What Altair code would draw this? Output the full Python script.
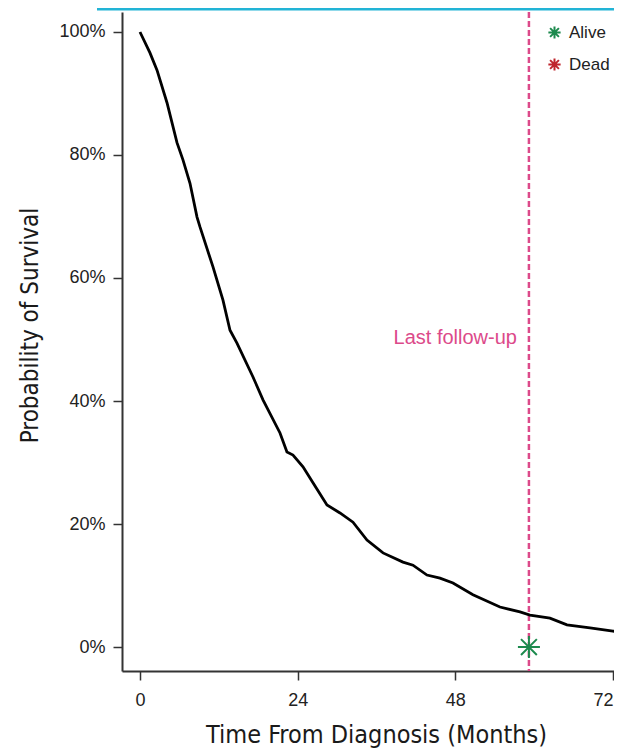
import altair as alt
import pandas as pd

# ---- data ----
months = [0, 1.52, 2.59, 4.11, 5.63, 6.54, 7.61, 8.68, 9.13, 11.11, 12.63, 13.70,
          14.76, 17.20, 18.72, 21.31, 22.37, 23.29, 24.81, 26.33, 28.46, 30.44,
          32.42, 34.55, 36.99, 40.03, 41.55, 43.68, 45.66, 47.64, 50.68, 54.79,
          57.84, 59.36, 62.40, 64.99, 68.49, 71.99, 73.36]
survival = [100, 96.6, 93.8, 88.5, 82.0, 79.2, 75.4, 69.9, 68.3, 61.8, 56.4, 51.5,
            49.4, 43.9, 40.2, 34.8, 31.7, 31.2, 29.3, 26.7, 23.1, 21.8,
            20.3, 17.4, 15.3, 13.8, 13.3, 11.7, 11.2, 10.4, 8.5, 6.5,
            5.7, 5.2, 4.7, 3.6, 3.1, 2.6, 2.3]

last_followup = [59.2]
followup_label = ["Last follow-up"]

censor_month = [59.2]
censor_surv = [0]
censor_status = ["Alive"]

status_labels = ["Alive", "Dead"]
status_colors = ["#1d8a4e", "#c0262d"]

x_ticks = [0, 24, 48, 72]
y_ticks = [0, 20, 40, 60, 80, 100]

# ---- styling ----
PINK = "#dc4a8a"
CYAN = "#22b4d6"
AXIS_COL = "#333333"
TICK_FONT = "Liberation Sans"
TITLE_FONT = "DejaVu Sans Condensed"
ASTERISK = "M-1,0L1,0M0,-1L0,1M-0.72,-0.72L0.72,0.72M-0.72,0.72L0.72,-0.72"

W, H = 492, 659
xscale = alt.Scale(domain=[-2.74, 72.15], nice=False, zero=False)
yscale = alt.Scale(domain=[-3.9, 103.25], nice=False, zero=False)

x_axis = alt.Axis(values=x_ticks, title="Time From Diagnosis (Months)", grid=False,
                  domainColor=AXIS_COL, domainWidth=2, tickColor=AXIS_COL, tickWidth=1.5,
                  tickSize=9, labelFont=TICK_FONT, labelFontSize=18, labelColor="#222222",
                  labelPadding=11, labelFlush=4, titleFont=TITLE_FONT, titleFontSize=25,
                  titleFontWeight="normal", titleColor="#1a1a1a",
                  titleX=254, titleY=71, titleAlign="center", titleBaseline="alphabetic")
y_axis = alt.Axis(values=y_ticks, labelExpr="datum.value + '%'", title="Probability of Survival",
                  grid=False, domainColor=AXIS_COL, domainWidth=2, tickColor=AXIS_COL,
                  tickWidth=1.5, tickSize=9, labelFont=TICK_FONT, labelFontSize=18,
                  labelColor="#222222", labelPadding=8, titleFont=TITLE_FONT,
                  titleFontSize=24, titleFontWeight="normal", titleColor="#1a1a1a",
                  titleX=-92, titleY=313, titleAngle=-90, titleAlign="center",
                  titleBaseline="middle")

curve_df = pd.DataFrame({"month": months, "surv": survival})
fu_df = pd.DataFrame({"month": last_followup, "label": followup_label})
cens_df = pd.DataFrame({"month": censor_month, "surv": censor_surv, "status": censor_status})

curve = alt.Chart(curve_df).mark_line(color="black", strokeWidth=2.8, clip=True).encode(
    x=alt.X("month:Q", scale=xscale, axis=x_axis),
    y=alt.Y("surv:Q", scale=yscale, axis=y_axis),
)

fu_rule = alt.Chart(fu_df).mark_rule(color=PINK, strokeDash=[6, 3], strokeWidth=2.5).encode(
    x=alt.X("month:Q", scale=xscale),
)

fu_text = alt.Chart(fu_df).mark_text(align="right", baseline="middle", dx=-12,
                                     font=TICK_FONT, fontSize=20, color=PINK).encode(
    x=alt.X("month:Q", scale=xscale),
    y=alt.value(326),
    text="label:N",
)

cens = alt.Chart(cens_df).mark_point(shape=ASTERISK, filled=False, strokeWidth=2,
                                     size=484, opacity=1).encode(
    x=alt.X("month:Q", scale=xscale),
    y=alt.Y("surv:Q", scale=yscale),
    color=alt.Color("status:N",
                    scale=alt.Scale(domain=status_labels, range=status_colors),
                    legend=alt.Legend(title=None, orient="none", legendX=424, legendY=12,
                                      symbolType=ASTERISK, symbolSize=150,
                                      symbolStrokeWidth=2, symbolFillColor="transparent",
                                      labelFont=TICK_FONT, labelFontSize=17,
                                      labelColor="#222222", labelOffset=6,
                                      rowPadding=11, padding=0)),
)

top_line = alt.Chart(fu_df).mark_rule(color=CYAN, strokeWidth=3, clip=False).encode(
    x=alt.value(-25), x2=alt.value(W), y=alt.value(-3),
)

chart = alt.layer(top_line, fu_rule, fu_text, curve, cens).properties(
    width=W, height=H,
    autosize=alt.AutoSizeParams(type="none"),
    padding={"left": 114, "top": 4, "right": 0, "bottom": 79},
    background="white",
).configure_view(stroke=None)

chart.save("out.html", embed_options={"renderer": "svg", "actions": False})
